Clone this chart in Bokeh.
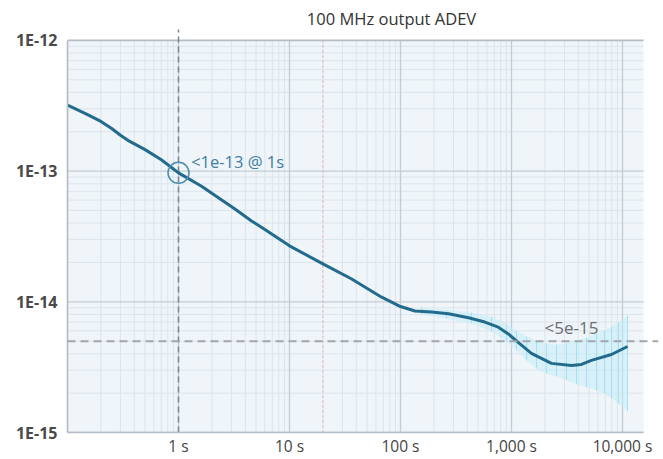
from bokeh.plotting import figure
from bokeh.models import Range1d, FixedTicker, Span, Label
from bokeh.embed import file_html
from bokeh.resources import INLINE

# ---------------- data ----------------
title_text = "100 MHz output ADEV"

tau = [0.1, 0.15, 0.2, 0.25, 0.3, 0.35, 0.5, 0.7, 1, 1.6, 3.2, 4.55, 6, 10,
       20, 36, 67, 100, 135, 190, 270, 410, 575, 760, 930, 1230, 1510, 2290,
       3470, 4270, 5250, 7950, 11100]
adev = [3.2e-13, 2.72e-13, 2.4e-13, 2.12e-13, 1.88e-13, 1.72e-13, 1.46e-13,
        1.22e-13, 9.7e-14, 7.7e-14, 5.15e-14, 4.15e-14, 3.58e-14, 2.68e-14,
        1.95e-14, 1.5e-14, 1.09e-14, 9.2e-15, 8.5e-15, 8.35e-15, 8.1e-15,
        7.55e-15, 7.0e-15, 6.4e-15, 5.7e-15, 4.66e-15, 4.03e-15, 3.38e-15,
        3.26e-15, 3.32e-15, 3.56e-15, 3.95e-15, 4.55e-15]

err_tau = [155, 260, 436, 660, 900, 1110, 1370, 1680, 2070, 2540, 3130, 3850,
           4740, 5830, 6880, 7960, 9200, 11100]
err_high = [8.99e-15, 8.69e-15, 8.24e-15, 7.69e-15, 6.81e-15, 6.02e-15,
            5.42e-15, 5.05e-15, 4.80e-15, 4.71e-15, 4.80e-15, 5.05e-15,
            5.32e-15, 5.71e-15, 6.02e-15, 6.46e-15, 6.92e-15, 7.83e-15]
err_low = [7.96e-15, 7.43e-15, 6.81e-15, 5.92e-15, 4.97e-15, 4.24e-15,
           3.56e-15, 3.09e-15, 2.83e-15, 2.69e-15, 2.51e-15, 2.34e-15,
           2.22e-15, 2.10e-15, 2.00e-15, 1.83e-15, 1.67e-15, 1.46e-15]

x_ticks = [1, 10, 100, 1000, 10000]
x_labels = ["1 s", "10 s", "100 s", "1,000 s", "10,000 s"]
y_ticks = [1e-15, 1e-14, 1e-13, 1e-12]
y_labels = ["1E-15", "1E-14", "1E-13", "1E-12"]

mark_tau = 1            # highlighted point
mark_text = "<1e-13 @ 1s"
limit_level = 5e-15     # horizontal spec line
limit_text = "<5e-15"
red_tau = 20            # red dotted marker

# plot box extent (data units)
box_x = (0.1, 15500)
box_y = (1e-15, 1e-12)

# ---------------- layout ----------------
W, H = 663, 459
left_b, right_b, bottom_b = 67, 5, 26
frame_w = W - left_b - right_b
frame_h = H - bottom_b
x_dec = 111.0
y_dec = 131.0
x_end = 10 ** (-1 + frame_w / x_dec)
y_end = 10 ** (-15 + frame_h / y_dec)

p = figure(width=W, height=H, x_axis_type="log", y_axis_type="log",
           x_range=Range1d(0.1, x_end), y_range=Range1d(1e-15, y_end),
           output_backend="svg", toolbar_location=None,
           min_border_left=left_b, min_border_right=right_b, min_border_top=0,
           min_border_bottom=bottom_b)
p.outline_line_color = None
p.background_fill_color = "white"
p.border_fill_color = "white"
p.xgrid.visible = False
p.ygrid.visible = False

# plot box background
p.quad(left=[box_x[0]], right=[box_x[1]], bottom=[box_y[0]], top=[box_y[1]],
       fill_color="#eff5f9", line_color=None)

# grid lines (log decades)
vx_minor, vx_major = [], []
for d in range(-1, 5):
    for k in range(1, 10):
        v = k * 10.0 ** d
        if box_x[0] <= v <= box_x[1]:
            (vx_major if k == 1 else vx_minor).append(v)
hy_minor, hy_major = [], []
for d in range(-15, -12):
    for k in range(1, 10):
        v = k * 10.0 ** d
        (hy_major if k == 1 else hy_minor).append(v)

p.segment(x0=vx_minor, x1=vx_minor, y0=[box_y[0]] * len(vx_minor),
          y1=[box_y[1]] * len(vx_minor), line_color="#dce5ec", line_width=1)
p.segment(x0=[box_x[0]] * len(hy_minor), x1=[box_x[1]] * len(hy_minor),
          y0=hy_minor, y1=hy_minor, line_color="#dce5ec", line_width=1)
p.segment(x0=vx_major, x1=vx_major, y0=[box_y[0]] * len(vx_major),
          y1=[box_y[1]] * len(vx_major), line_color="#c3ccd3", line_width=1.3)
p.segment(x0=[box_x[0]] * len(hy_major), x1=[box_x[1]] * len(hy_major),
          y0=hy_major, y1=hy_major, line_color="#c3ccd3", line_width=1.3)
# top border
p.segment(x0=[box_x[0]], x1=[box_x[1]], y0=[box_y[1]], y1=[box_y[1]],
          line_color="#b4bdc5", line_width=1.6)

# red dotted marker line
p.segment(x0=[red_tau], x1=[red_tau], y0=[box_y[0]], y1=[box_y[1]],
          line_color="#f2a3ad", line_width=1, line_dash="2 3")

# error band + bars
p.varea(x=err_tau, y1=err_low, y2=err_high, fill_color="#c4ecf8", fill_alpha=0.55)
p.segment(x0=err_tau, x1=err_tau, y0=err_low, y1=err_high,
          line_color="#a6e0f2", line_width=1)

# spec line
p.add_layout(Span(location=limit_level, dimension="width", line_color="#a2a7ab",
                  line_width=2, line_dash="8 5"))

# 1 s vertical dashed line
p.segment(x0=[mark_tau], x1=[mark_tau], y0=[1e-15], y1=[1.21e-12],
          line_color="#7b868d", line_width=1.5, line_dash="6 4")

# ADEV curve
p.line(tau, adev, line_color="#226b8c", line_width=3, line_join="round")

# highlighted point
mark_val = adev[tau.index(mark_tau)]
p.scatter(x=[mark_tau], y=[mark_val], marker="circle", size=21,
          fill_color=None, line_color="#4a8db0", line_width=1.5)

p.add_layout(Label(x=1.3, y=1.18e-13, text=mark_text, text_align="left",
                   text_baseline="middle", text_font="Open Sans",
                   text_font_size="16.5px", text_color="#3f7fa3"))
p.add_layout(Label(x=3470, y=6.34e-15, text=limit_text, text_align="center",
                   text_baseline="middle", text_font="Open Sans",
                   text_font_size="17px", text_color="#6b6e70"))
p.add_layout(Label(x=83, y=1.47e-12, text=title_text, text_align="center",
                   text_baseline="middle", text_font="Open Sans",
                   text_font_size="16.5px", text_color="#333333"))

# axes
xa = p.xaxis[0]
xa.ticker = FixedTicker(ticks=x_ticks, minor_ticks=[])
xa.major_label_overrides = dict(zip(x_ticks, x_labels))
xa.bounds = box_x
xa.axis_line_color = "#b4bdc5"
xa.axis_line_width = 1.6
xa.major_tick_in = 0
xa.major_tick_out = 0
xa.minor_tick_in = 0
xa.minor_tick_out = 0
xa.major_label_standoff = 2
xa.major_label_text_font = "Open Sans"
xa.major_label_text_font_size = "15.5px"
xa.major_label_text_color = "#444444"

ya = p.yaxis[0]
ya.ticker = FixedTicker(ticks=y_ticks, minor_ticks=[])
ya.major_label_overrides = dict(zip(y_ticks, y_labels))
ya.bounds = box_y
ya.axis_line_color = "#b4bdc5"
ya.axis_line_width = 1.6
ya.major_tick_in = 0
ya.major_tick_out = 0
ya.minor_tick_in = 0
ya.minor_tick_out = 0
ya.major_label_standoff = 10
ya.major_label_text_font = "Open Sans"
ya.major_label_text_font_style = "bold"
ya.major_label_text_font_size = "16px"
ya.major_label_text_color = "#4a4a4a"

open("out.html", "w").write(file_html(p, INLINE))
